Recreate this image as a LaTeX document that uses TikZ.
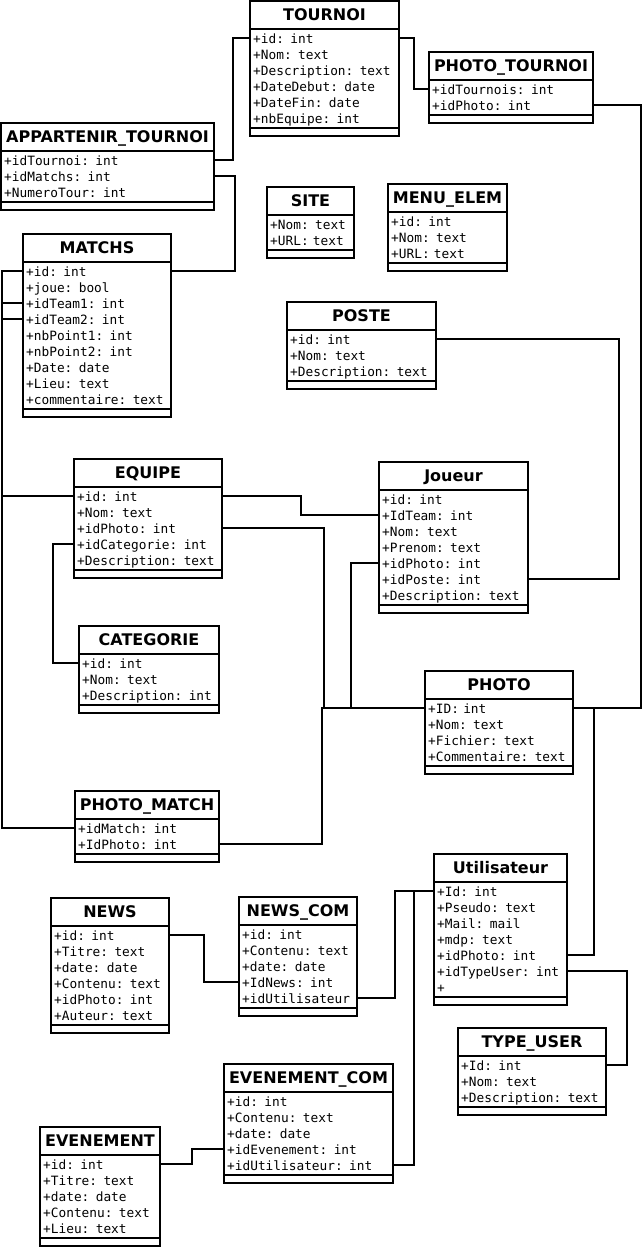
\documentclass[tikz,border=0pt]{standalone}
\usepackage{fontspec}
\setmainfont{DejaVu Sans}
\setmonofont{DejaVu Sans Mono}
\tikzset{
  umlline/.style={line width=2pt},
  umlhead/.style={font=\bfseries\fontsize{16}{19}\selectfont, inner sep=0pt,
    text height=11.66pt, text depth=0pt},
  umlrow/.style={anchor=west, inner xsep=3pt, inner ysep=0pt, align=left,
    text height=13.5pt, text depth=3pt,
    font=\ttfamily\fontsize{12.8}{16}\selectfont},
  link/.style={line width=2pt}
}
% \umlclass{id}{title}{left}{right}{top}{row,row,...}
\newcommand\umlclass[6]{%
  \pgfmathsetmacro\uTW{#4-#3-6}%
  \node[umlhead] (#1) at ({(#3+#4)/2},{#5+13.8}) {#2};
  \foreach \r [count=\i] in {#6} {
    \node[umlrow, text width=\uTW pt] (#1-\i) at ({#3},{#5+37+16*(\i-1)}) {\r};
    \xdef\uN{\i}
  }
  \pgfmathsetmacro\uSep{#5+37+16*(\uN-1)+10}%
  \pgfmathsetmacro\uBot{\uSep+8}%
  \draw[umlline] ({#3},{#5}) rectangle ({#4},\uBot);
  \draw[umlline] ({#3},{#5+28}) -- ({#4},{#5+28});
  \draw[umlline] ({#3},\uSep) -- ({#4},\uSep);
}
\begin{document}
\begin{tikzpicture}[x=1pt,y=-1pt]
\useasboundingbox (0,0) rectangle (643,1250);

\umlclass{tournoi}{TOURNOI}{250}{399}{1}{+id: int,+Nom: text,+Description: text,+DateDebut: date,+DateFin: date,+nbEquipe: int}
\umlclass{phototour}{PHOTO\_TOURNOI}{429}{593}{52}{+idTournois: int,+idPhoto: int}
\umlclass{apptour}{APPARTENIR\_TOURNOI}{1}{214}{123}{+idTournoi: int,+idMatchs: int,+NumeroTour: int}
\umlclass{site}{SITE}{267}{354}{187}{+Nom: text,+URL: text}
\umlclass{menu}{MENU\_ELEM}{388}{507}{184}{+id: int,+Nom: text,+URL: text}
\umlclass{matchs}{MATCHS}{23}{171}{234}{+id: int,+joue: bool,+idTeam1: int,+idTeam2: int,+nbPoint1: int,+nbPoint2: int,+Date: date,+Lieu: text,+commentaire: text}
\umlclass{poste}{POSTE}{287}{436}{302}{+id: int,+Nom: text,+Description: text}
\umlclass{equipe}{EQUIPE}{74}{222}{459}{+id: int,+Nom: text,+idPhoto: int,+idCategorie: int,+Description: text}
\umlclass{joueur}{Joueur}{379}{528}{462}{+id: int,+IdTeam: int,+Nom: text,+Prenom: text,+idPhoto: int,+idPoste: int,+Description: text}
\umlclass{categorie}{CATEGORIE}{79}{219}{626}{+id: int,+Nom: text,+Description: int}
\umlclass{photo}{PHOTO}{425}{573}{671}{+ID: int,+Nom: text,+Fichier: text,+Commentaire: text}
\umlclass{photomatch}{PHOTO\_MATCH}{75}{219}{791}{+idMatch: int,+IdPhoto: int}
\umlclass{util}{Utilisateur}{434}{567}{854}{+Id: int,+Pseudo: text,+Mail: mail,+mdp: text,+idPhoto: int,+idTypeUser: int,+}
\umlclass{news}{NEWS}{51}{169}{898}{+id: int,+Titre: text,+date: date,+Contenu: text,+idPhoto: int,+Auteur: text}
\umlclass{newscom}{NEWS\_COM}{239}{357}{897}{+id: int,+Contenu: text,+date: date,+IdNews: int,+idUtilisateur}
\umlclass{typeuser}{TYPE\_USER}{458}{606}{1028}{+Id: int,+Nom: text,+Description: text}
\umlclass{evcom}{EVENEMENT\_COM}{224}{393}{1064}{+id: int,+Contenu: text,+date: date,+idEvenement: int,+idUtilisateur: int}
\umlclass{evenement}{EVENEMENT}{40}{160}{1127}{+id: int,+Titre: text,+date: date,+Contenu: text,+Lieu: text}

% relations between key columns
\draw[link] (tournoi-1.west) -- ++(-17,0) |- (apptour-1.east);
\draw[link] (tournoi-1.east) -- ++(15,0) |- (phototour-1.west);
\draw[link] (phototour-2.east) -- ++(48,0) |- (photo-1.east);
\draw[link] (apptour-2.east) -- ++(21,0) |- (matchs-1.east);
\draw[link] (matchs-1.west) -- ++(-21,0) |- (photomatch-1.west);
\draw[link] (matchs-3.west) -- ++(-21,0) |- (equipe-1.west);
\draw[link] (matchs-4.west) -- ++(-21,0) |- (equipe-1.west);
\draw[link] (equipe-1.east) -- ++(79,0) |- (joueur-2.west);
\draw[link] (equipe-3.east) -- ++(102,0) |- (photo-1.west);
\draw[link] (equipe-4.west) -- ++(-21,0) |- (categorie-1.west);
\draw[link] (joueur-5.west) -- ++(-28,0) |- (photo-1.west);
\draw[link] (joueur-6.east) -- ++(91,0) |- (poste-1.east);
\draw[link] (photomatch-2.east) -- ++(103,0) |- (photo-1.west);
\draw[link] (photo-1.east) -- ++(21,0) |- (util-5.east);
\draw[link] (util-6.east) -- ++(60,0) |- (typeuser-1.east);
\draw[link] (news-1.east) -- ++(35,0) |- (newscom-4.west);
\draw[link] (newscom-5.east) -- ++(38,0) |- (util-1.west);
\draw[link] (evcom-5.east) -- ++(21,0) |- (util-1.west);
\draw[link] (evenement-1.east) -- ++(32,0) |- (evcom-4.west);
\end{tikzpicture}
\end{document}
